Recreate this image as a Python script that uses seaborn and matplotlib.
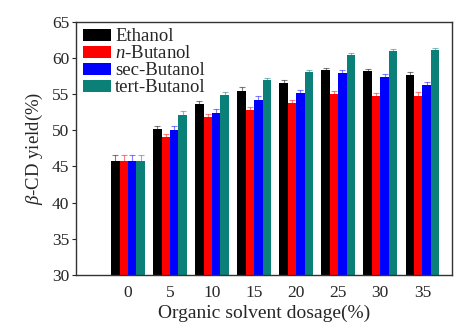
import numpy as np
import pandas as pd
import matplotlib
matplotlib.use("Agg")
import matplotlib.pyplot as plt
import seaborn as sns

dosages = ["0", "5", "10", "15", "20", "25", "30", "35"]
series_names = ["Ethanol", "$n$-Butanol", "sec-Butanol", "tert-Butanol"]
ethanol = [45.7, 50.2, 53.6, 55.4, 56.6, 58.3, 58.2, 57.7]
n_butanol = [45.7, 49.1, 51.9, 52.8, 53.8, 55.0, 54.7, 54.8]
sec_butanol = [45.7, 50.0, 52.4, 54.2, 55.1, 57.9, 57.4, 56.3]
tert_butanol = [45.7, 52.1, 54.9, 56.9, 58.0, 60.4, 61.0, 61.1]
ethanol_err = [0.9, 0.4, 0.4, 0.6, 0.4, 0.3, 0.3, 0.3]
n_butanol_err = [0.9, 0.4, 0.4, 0.4, 0.4, 0.5, 0.5, 0.5]
sec_butanol_err = [0.9, 0.6, 0.5, 0.6, 0.5, 0.4, 0.4, 0.4]
tert_butanol_err = [0.9, 0.5, 0.4, 0.3, 0.3, 0.3, 0.3, 0.3]
colors = ["#000000", "#ff0000", "#0000ff", "#0a8078"]

values = [ethanol, n_butanol, sec_butanol, tert_butanol]
errs = [ethanol_err, n_butanol_err, sec_butanol_err, tert_butanol_err]
rows = []
for name, vals, er in zip(series_names, values, errs):
    for d, v, e in zip(dosages, vals, er):
        rows.append({"dosage": d, "solvent": name, "yield": v, "err": e})
df = pd.DataFrame(rows)

sns.set_style("ticks")
plt.rcParams["font.family"] = ["Liberation Serif", "DejaVu Serif"]
plt.rcParams["mathtext.fontset"] = "custom"
plt.rcParams["mathtext.it"] = "Liberation Serif:italic"
plt.rcParams["mathtext.rm"] = "Liberation Serif"

fig = plt.figure(figsize=(4.55, 3.36), dpi=100)
ax = fig.add_axes([0.167, 0.182, 0.826, 0.753])

sns.barplot(data=df, x="dosage", y="yield", hue="solvent", order=dosages,
            hue_order=series_names, palette=colors, width=0.8,
            errorbar=None, saturation=1, ax=ax, edgecolor="none", linewidth=0)

# error bars from the data, placed on bar centres
for cont, name, col in zip(ax.containers, series_names, colors):
    sub = df[df.solvent == name].set_index("dosage").loc[dosages]
    xs = [p.get_x() + p.get_width() / 2 for p in cont.patches]
    ax.errorbar(xs, sub["yield"].values, yerr=sub["err"].values, fmt="none",
                ecolor=col, elinewidth=0.8, capsize=2, capthick=0.8, alpha=0.5)

ax.set_ylim(30, 65)
ax.set_yticks(np.arange(30, 66, 5))
ax.set_xlim(-1.235, 7.70)
for s in ax.spines.values():
    s.set_visible(True)
    s.set_linewidth(1.0)
    s.set_color("#333333")
ax.tick_params(axis="y", direction="out", length=3, labelsize=12.5, pad=2)
ax.tick_params(axis="x", length=0, labelsize=12.5, pad=7)
ax.set_xlabel("Organic solvent dosage(%)", fontsize=14, labelpad=3)
ax.set_ylabel(r"$\it{\beta}$-CD yield(%)", fontsize=13.5, labelpad=5)

leg = ax.legend(loc="upper left", frameon=False, fontsize=13.5,
                handlelength=1.5, handleheight=0.6, labelspacing=0.0,
                handletextpad=0.25, borderaxespad=0.2, borderpad=0.15)

fig.savefig("out.png", dpi=100)
